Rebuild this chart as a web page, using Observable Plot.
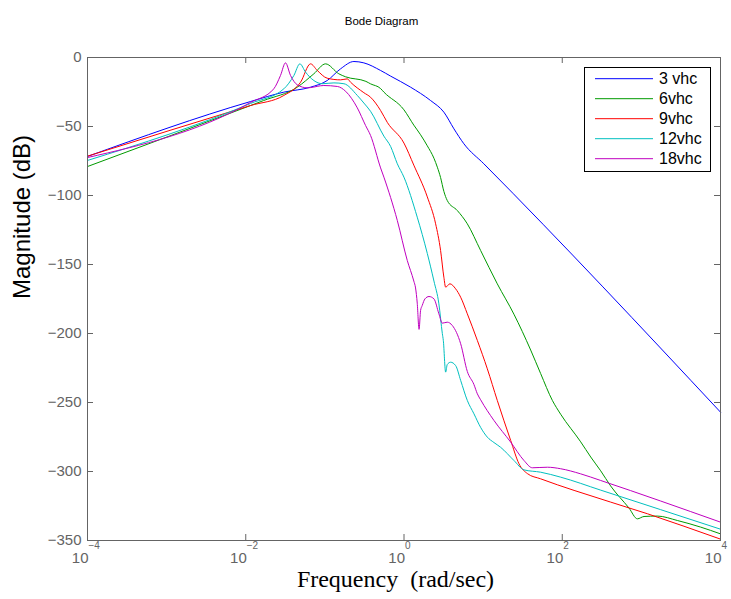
<!DOCTYPE html>
<html>
<head>
<meta charset="utf-8">
<script src="https://cdn.jsdelivr.net/npm/d3@7"></script>
<script src="https://cdn.jsdelivr.net/npm/@observablehq/plot@0.6"></script>
<style>
  html, body { margin: 0; padding: 0; background: #fff; }
  #chart { position: relative; width: 731px; height: 599px; }
</style>
</head>
<body>
<div id="chart"></div>
<script>
// ---- data ----
const series = ["3 vhc", "6vhc", "9vhc", "12vhc", "18vhc"];
const colors = ["#0000ff", "#009a00", "#ff0000", "#00bfbf", "#bf00bf"];

const freq3 = [1e-4, 0.0115, 0.0303, 0.0659, 0.107, 0.158, 0.233, 0.311, 0.506, 0.678, 1.21, 2.17, 3.19, 4.28, 5.71, 10.2, 1e4];
const mag3  = [-71.7, -31.9, -25.1, -21.5, -16.7, -8.2, -2.9, -3.9, -9.4, -13.5, -21.5, -31.2, -39.6, -51.7, -62.5, -77, -257];

const freq6 = [1e-4, 0.0115, 0.0168, 0.0448, 0.0726, 0.102, 0.150, 0.183, 0.33, 0.378, 0.506, 0.557, 0.998, 1.33, 1.62, 1.97, 2.39, 2.64, 2.90, 3.19, 3.52, 4.72, 6.31, 9.29, 15.1, 24.5, 39.9, 53.3, 75.0, 95.5, 171, 229, 306, 409, 698, 891, 1080, 1590, 2850, 5620, 1e4];
const mag6  = [-79, -34.8, -31.2, -21.5, -11.8, -4.6, -11.8, -14, -17.3, -19.1, -22.5, -25.1, -37.9, -49, -56, -64, -73, -79.5, -87, -97, -103.6, -110.9, -120.5, -139.8, -164, -186, -212, -229, -248.5, -258.5, -278.5, -289.5, -299.5, -310.5, -326.5, -334.3, -332.6, -332.3, -335.5, -340.3, -345.2];

const freq9 = [1e-4, 0.0115, 0.0303, 0.0493, 0.0659, 0.0802, 0.107, 0.158, 0.192, 0.211, 0.311, 0.378, 0.506, 0.615, 0.998, 1.33, 1.97, 2.51, 2.90, 3.19, 3.36, 3.80, 4.49, 5.20, 6.31, 8.45, 11.3, 15.1, 22.3, 28.4, 36.2, 53.3, 141, 1190, 1e4];
const mag9  = [-71.5, -34.8, -27.5, -17.9, -4.6, -9.4, -15, -16.2, -15.5, -17.9, -25.5, -28.8, -38.4, -47, -62, -78, -101, -120.5, -139.8, -159.2, -166.4, -164, -167.6, -173.7, -185.7, -205, -225.6, -248.5, -277.5, -294.4, -301.5, -305.3, -313.7, -330.6, -349];

const freq12 = [1e-4, 0.0115, 0.0303, 0.0406, 0.0483, 0.0570, 0.0726, 0.0927, 0.130, 0.174, 0.257, 0.311, 0.378, 0.557, 0.678, 0.823, 0.998, 1.47, 1.97, 2.39, 2.76, 3.05, 3.14, 3.36, 3.52, 3.88, 4.49, 5.20, 6.31, 7.66, 9.29, 11.3, 13.7, 16.6, 24.5, 32.8, 53.3, 95.5, 306, 1e4];
const mag12  = [-74.6, -33.3, -22.7, -13, -4.6, -10.6, -16.7, -19, -18.4, -19, -27.5, -33, -39, -57, -64.5, -77, -86.7, -115.7, -142, -162, -178.5, -200, -205, -228, -222.5, -220.8, -223.2, -234, -248.5, -258.2, -268, -275.1, -279, -282.4, -292, -298.8, -300.5, -304.1, -313.5, -341.8];

const freq18 = [1e-4, 0.0115, 0.0226, 0.0275, 0.0318, 0.0368, 0.0448, 0.0600, 0.0659, 0.0970, 0.144, 0.183, 0.257, 0.327, 0.378, 0.506, 0.557, 0.823, 1.10, 1.33, 1.40, 1.47, 1.55, 1.62, 1.70, 1.84, 2.07, 2.39, 2.76, 3.05, 3.52, 4.08, 5.20, 6.31, 7.66, 8.45, 9.29, 13.7, 22.3, 32.8, 41.9, 64.9, 95.5, 171, 306, 1e4];
const mag18  = [-72.5, -32.6, -22.7, -13, -3.9, -13, -19.8, -22, -21.8, -20.3, -21, -24.5, -36.5, -49.3, -56.5, -80, -86.7, -118.1, -147.1, -162, -167, -178, -197, -183.3, -179.7, -174.9, -173.2, -174.9, -185.7, -192.5, -191.8, -194.2, -207.4, -227.5, -237, -243.7, -248, -263, -278.7, -292, -297.3, -296.9, -298, -301.7, -306.5, -336.7];

const yTicks = [0, -50, -100, -150, -200, -250, -300, -350];
const xTicks = [1e-4, 1e-2, 1, 1e2, 1e4];
const xTickBase = ["10", "10", "10", "10", "10"];
const xTickExp = ["\u22124", "\u22122", "0", "2", "4"];

// ---- build table ----
const freqs = [freq3, freq6, freq9, freq12, freq18];
const mags = [mag3, mag6, mag9, mag12, mag18];
const table = [];
series.forEach((s, i) => freqs[i].forEach((f, j) => table.push({series: s, freq: f, mag: mags[i][j]})));

const axisColor = "#646464";
const W = 731, H = 599, mL = 87, mR = 11, mT = 57, mB = 59;
const fw = W - mL - mR, fh = H - mT - mB, tl = 6;

const chart = Plot.plot({
  width: W, height: H,
  marginLeft: mL, marginRight: mR, marginTop: mT, marginBottom: mB,
  style: {fontFamily: "Liberation Sans, Arial, sans-serif", background: "#fff", overflow: "visible"},
  x: {type: "log", domain: [1e-4, 1e4], axis: null},
  y: {domain: [-350, 0], axis: null},
  color: {domain: series, range: colors},
  marks: [
    Plot.line(table, {x: "freq", y: "mag", z: "series", stroke: "series", strokeWidth: 1, curve: "monotone-x"}),
    Plot.frame({stroke: axisColor}),
    Plot.tickY(yTicks, {y: d => d, insetRight: fw - tl, stroke: axisColor}),
    Plot.tickY(yTicks, {y: d => d, insetLeft: fw - tl, stroke: axisColor}),
    Plot.tickX(xTicks, {x: d => d, insetTop: fh - tl, stroke: axisColor}),
    Plot.tickX(xTicks, {x: d => d, insetBottom: fh - tl, stroke: axisColor}),
    Plot.axisY(yTicks, {anchor: "left", tickSize: 0, tickPadding: 6, fontSize: 15, color: axisColor, label: null}),
    Plot.text(xTicks, {x: d => d, frameAnchor: "bottom", text: (d, i) => xTickBase[i], textAnchor: "end", dx: 1, dy: 22, fontSize: 15, fill: axisColor}),
    Plot.text(xTicks, {x: d => d, frameAnchor: "bottom", text: (d, i) => xTickExp[i], textAnchor: "start", dx: 1, dy: 8, fontSize: 10, fill: axisColor}),
    Plot.text(["Magnitude (dB)"], {frameAnchor: "left", rotate: -90, dx: -65, fontSize: 24, fill: "#000"}),
    Plot.text(["Frequency\u00a0 (rad/sec)"], {frameAnchor: "bottom", dx: -8.5, dy: 46, fontSize: 24, fontFamily: "Liberation Serif, Times New Roman, serif", fill: "#000"}),
    Plot.text(["Bode Diagram"], {frameAnchor: "top", dx: -22.5, dy: -41, fontSize: 11.5, fill: "#000"})
  ]
});

const container = document.getElementById("chart");
container.appendChild(chart);

// ---- legend ----
const lg = d3.select(container).append("svg")
  .attr("width", 128).attr("height", 106)
  .style("position", "absolute").style("left", "584px").style("top", "67px");
lg.append("rect").attr("x", 0.5).attr("y", 0.5).attr("width", 126).attr("height", 104)
  .attr("fill", "#fff").attr("stroke", "#000");
series.forEach((s, i) => {
  const cy = 11.7 + i * 20;
  lg.append("line").attr("x1", 11).attr("x2", 69).attr("y1", cy).attr("y2", cy)
    .attr("stroke", colors[i]).attr("stroke-width", 1);
  lg.append("text").attr("x", 75).attr("y", cy).attr("dy", "0.36em")
    .attr("font-size", 16).attr("font-family", "Liberation Sans, Arial, sans-serif")
    .attr("fill", "#000").text(s);
});
</script>
</body>
</html>
